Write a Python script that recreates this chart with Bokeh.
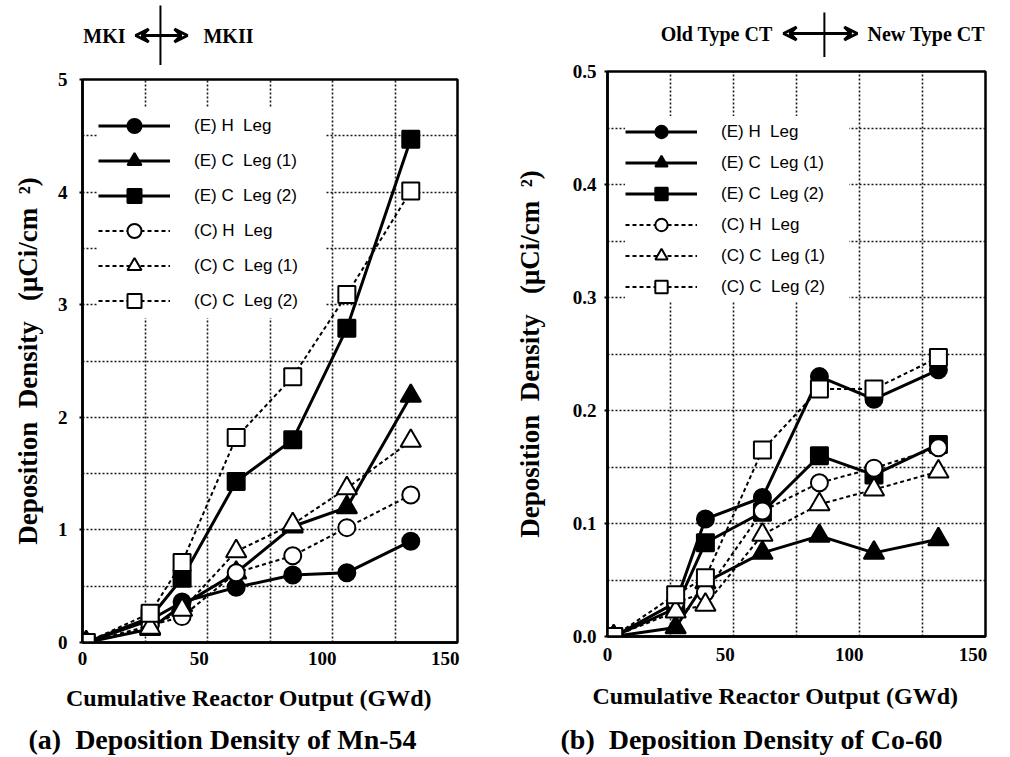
from bokeh.plotting import figure
from bokeh.layouts import row, column
from bokeh.models import (Range1d, FixedTicker, Legend, LegendItem, Arrow,
                          VeeHead, PrintfTickFormatter)
from bokeh.core.properties import value
from bokeh.embed import file_html
from bokeh.resources import INLINE

# ---------------- data ----------------
x_mn = [4, 30, 43, 65, 88, 110, 136]
mn_e_h = [0, 0.20, 0.36, 0.49, 0.60, 0.62, 0.90]
mn_e_c1 = [0, 0.12, 0.33, 0.62, 1.03, 1.20, 2.19]
mn_e_c2 = [0, 0.22, 0.57, 1.43, 1.80, 2.79, 4.47]
mn_c_h = [0, 0.15, 0.23, 0.62, 0.77, 1.02, 1.31]
mn_c_c1 = [0, 0.13, 0.29, 0.81, 1.05, 1.37, 1.79]
mn_c_c2 = [0, 0.26, 0.71, 1.82, 2.36, 3.09, 4.01]

x_co = [5, 30, 42, 65, 88, 110, 136]
co_e_h = [0, 0.030, 0.104, 0.123, 0.230, 0.210, 0.236]
co_e_c1 = [0, 0.008, 0.048, 0.074, 0.089, 0.074, 0.086]
co_e_c2 = [0, 0.025, 0.083, 0.110, 0.160, 0.143, 0.170]
co_c_h = [0, 0.030, 0.039, 0.111, 0.136, 0.149, 0.167]
co_c_c1 = [0, 0.022, 0.028, 0.090, 0.117, 0.130, 0.146]
co_c_c2 = [0, 0.037, 0.052, 0.165, 0.219, 0.219, 0.247]

series_labels = ["(E) H\u00a0 Leg", "(E) C\u00a0 Leg (1)", "(E) C\u00a0 Leg (2)",
                 "(C) H\u00a0 Leg", "(C) C\u00a0 Leg (1)", "(C) C\u00a0 Leg (2)"]
series_markers = ["circle", "triangle", "square", "circle", "triangle", "square"]
series_filled = [True, True, True, False, False, False]

x_tick_values = [50, 100, 150]
x_tick_labels = ["50", "100", "150"]
mn_y_ticks = [0, 1, 2, 3, 4, 5]
co_y_ticks = [0.0, 0.1, 0.2, 0.3, 0.4, 0.5]

x_label = "Cumulative Reactor Output (GWd)" + "\u00a0" * 7
y_label = "Deposition\u00a0 Density\u00a0\u00a0 (\u03bcCi/cm\u00a0 \u00b2)"
captions = ["(a)\u00a0 Deposition Density of Mn-54", "(b)\u00a0 Deposition Density of Co-60"]

X0, X1 = 2.5, 155.0
SERIF = "Liberation Serif"
SANS = "Liberation Sans"


def make_top(width, height, bl, br, xr, texts_left, texts_right, arrow_span, mark_x, ty, line_y):
    t = figure(width=width, height=height, x_range=xr, y_range=Range1d(0, height),
               output_backend="svg", toolbar_location=None,
               min_border_left=bl, min_border_right=br, min_border_top=0, min_border_bottom=0)
    t.axis.visible = False
    t.grid.visible = False
    t.outline_line_color = None
    t.text(x=[texts_left[0]], y=[ty], text=[texts_left[1]], text_align="right",
           text_baseline="middle", text_font=value(SERIF), text_font_style="bold",
           text_font_size="20px", text_color="black")
    t.text(x=[texts_right[0]], y=[ty], text=[texts_right[1]], text_align="left",
           text_baseline="middle", text_font=value(SERIF), text_font_style="bold",
           text_font_size="20px", text_color="black")
    t.add_layout(Arrow(start=VeeHead(size=13, line_width=3, fill_color=None),
                       end=VeeHead(size=13, line_width=3, fill_color=None),
                       x_start=arrow_span[0], x_end=arrow_span[1], y_start=ty, y_end=ty,
                       line_width=3, line_color="black"))
    t.segment(x0=[mark_x], x1=[mark_x], y0=[line_y[0]], y1=[line_y[1]],
              line_color="black", line_width=2)
    return t


def make_main(width, height, bl, br, bt, bb, xr, xs, ys, ymax, yticks, yfmt,
              legend_loc, glyph_h, label_w, msize,
              ytick_standoff, ylab_standoff, xtick_standoff, xlab_standoff):
    p = figure(width=width, height=height, x_range=xr, y_range=Range1d(0, ymax),
               output_backend="svg", toolbar_location=None,
               min_border_left=bl, min_border_right=br, min_border_top=bt, min_border_bottom=bb)
    p.background_fill_color = "white"
    p.border_fill_color = "white"
    p.outline_line_color = "black"
    p.outline_line_width = 2.5

    # grid: six equal columns, horizontal every half major step
    xstep = (X1 - X0) / 6.0
    p.xgrid.ticker = FixedTicker(ticks=[X0 + k * xstep for k in range(1, 6)])
    hstep = yticks[1] / 2.0
    p.ygrid.ticker = FixedTicker(ticks=[k * hstep for k in range(1, 10)])
    for g in (p.xgrid, p.ygrid):
        g.grid_line_color = "black"
        g.grid_line_width = 1.6
        g.grid_line_dash = "2 2"
        g.grid_line_alpha = 0.9

    ticks = [X0] + x_tick_values
    p.xaxis.ticker = FixedTicker(ticks=ticks)
    p.xaxis.major_label_overrides = dict(zip(ticks, ["0"] + x_tick_labels))
    p.yaxis.ticker = FixedTicker(ticks=yticks)
    p.yaxis.formatter = PrintfTickFormatter(format=yfmt)
    for ax in (p.xaxis, p.yaxis):
        ax.axis_line_width = 2.5
        ax.axis_line_color = "black"
        ax.major_tick_line_width = 2
        ax.minor_tick_line_color = None
        ax.major_label_text_font = SERIF
        ax.major_label_text_font_style = "bold"
        ax.major_label_text_font_size = "19px"
        ax.major_label_text_color = "black"
        ax.axis_label_text_font = SERIF
        ax.axis_label_text_font_style = "bold"
        ax.axis_label_text_color = "black"
    p.xaxis.major_tick_in = 0
    p.xaxis.major_tick_out = 0
    p.xaxis.major_label_standoff = xtick_standoff
    p.xaxis.axis_label = x_label
    p.xaxis.axis_label_text_font_size = "24px"
    p.xaxis.axis_label_standoff = xlab_standoff
    p.yaxis.major_tick_in = 0
    p.yaxis.major_tick_out = 3
    p.yaxis.major_label_standoff = ytick_standoff
    p.yaxis.axis_label = y_label
    p.yaxis.axis_label_text_font_size = "27px"
    p.yaxis.axis_label_standoff = ylab_standoff

    order = [0, 1, 2, 3, 4, 5]
    rend = {}
    for i in order:
        filled = series_filled[i]
        lr = p.line(xs, ys[i], line_color="black",
                    line_width=3 if filled else 2,
                    line_dash="solid" if filled else "4 3")
        rend[i] = [lr]
    for i in order:
        filled = series_filled[i]
        m = series_markers[i]
        s = msize * (1.2 if m == "triangle" else 1.0)
        sr = p.scatter(xs, ys[i], marker=m, size=s,
                       fill_color="black" if filled else "white",
                       line_color="black", line_width=2)
        rend[i].append(sr)
    items = [LegendItem(label=series_labels[i], renderers=rend[i]) for i in order]

    leg = Legend(items=items, location=legend_loc, border_line_color=None,
                 background_fill_color="white", background_fill_alpha=1.0,
                 glyph_width=72, glyph_height=glyph_h, spacing=0, padding=8,
                 label_standoff=24, label_width=label_w,
                 label_text_font=SANS, label_text_font_size="17px",
                 label_text_color="black", margin=0)
    p.add_layout(leg, "center")
    return p


xr_l = Range1d(X0, X1)
xr_r = Range1d(X0, X1)

top_l = make_top(507, 65, 82, 50, xr_l, (20.0, "MKI"), (51.7, "MKII"),
                 (24.1, 45.2), 34.2, 30, (0, 60))
main_l = make_main(507, 14 + 563 + 79, 82, 50, 14, 79, xr_l, x_mn,
                   [mn_e_h, mn_e_c1, mn_e_c2, mn_c_h, mn_c_c1, mn_c_c2],
                   5, mn_y_ticks, "%d", (16, 324), 35, 132, 17,
                   12, 12, 9, 17)

top_r = make_top(498, 57, 100, 20, xr_r, (69.1, "Old Type CT"), (107.4, "New Type CT"),
                 (73.5, 103.3), 90.0, 24, (0, 45))
main_r = make_main(498, 14 + 565 + 86, 100, 20, 14, 86, xr_r, x_co,
                   [co_e_h, co_e_c1, co_e_c2, co_c_h, co_c_c1, co_c_c2],
                   0.5, co_y_ticks, "%.1f", (18, 334), 31, 128, 17,
                   8, 25, 11, 19)

# caption strip under both panels
cap = figure(width=1005, height=34, x_range=Range1d(0, 1005), y_range=Range1d(0, 34),
             output_backend="svg", toolbar_location=None,
             min_border_left=0, min_border_right=0, min_border_top=0, min_border_bottom=0)
cap.axis.visible = False
cap.grid.visible = False
cap.outline_line_color = None
cap.text(x=[28, 560], y=[17, 17], text=captions, text_align="left", text_baseline="middle",
         text_font=value(SERIF), text_font_style="bold", text_font_size="28px",
         text_color="black")

layout = column(row(column(top_l, main_l), column(top_r, main_r)), cap)

open("out.html", "w").write(file_html(layout, INLINE))
